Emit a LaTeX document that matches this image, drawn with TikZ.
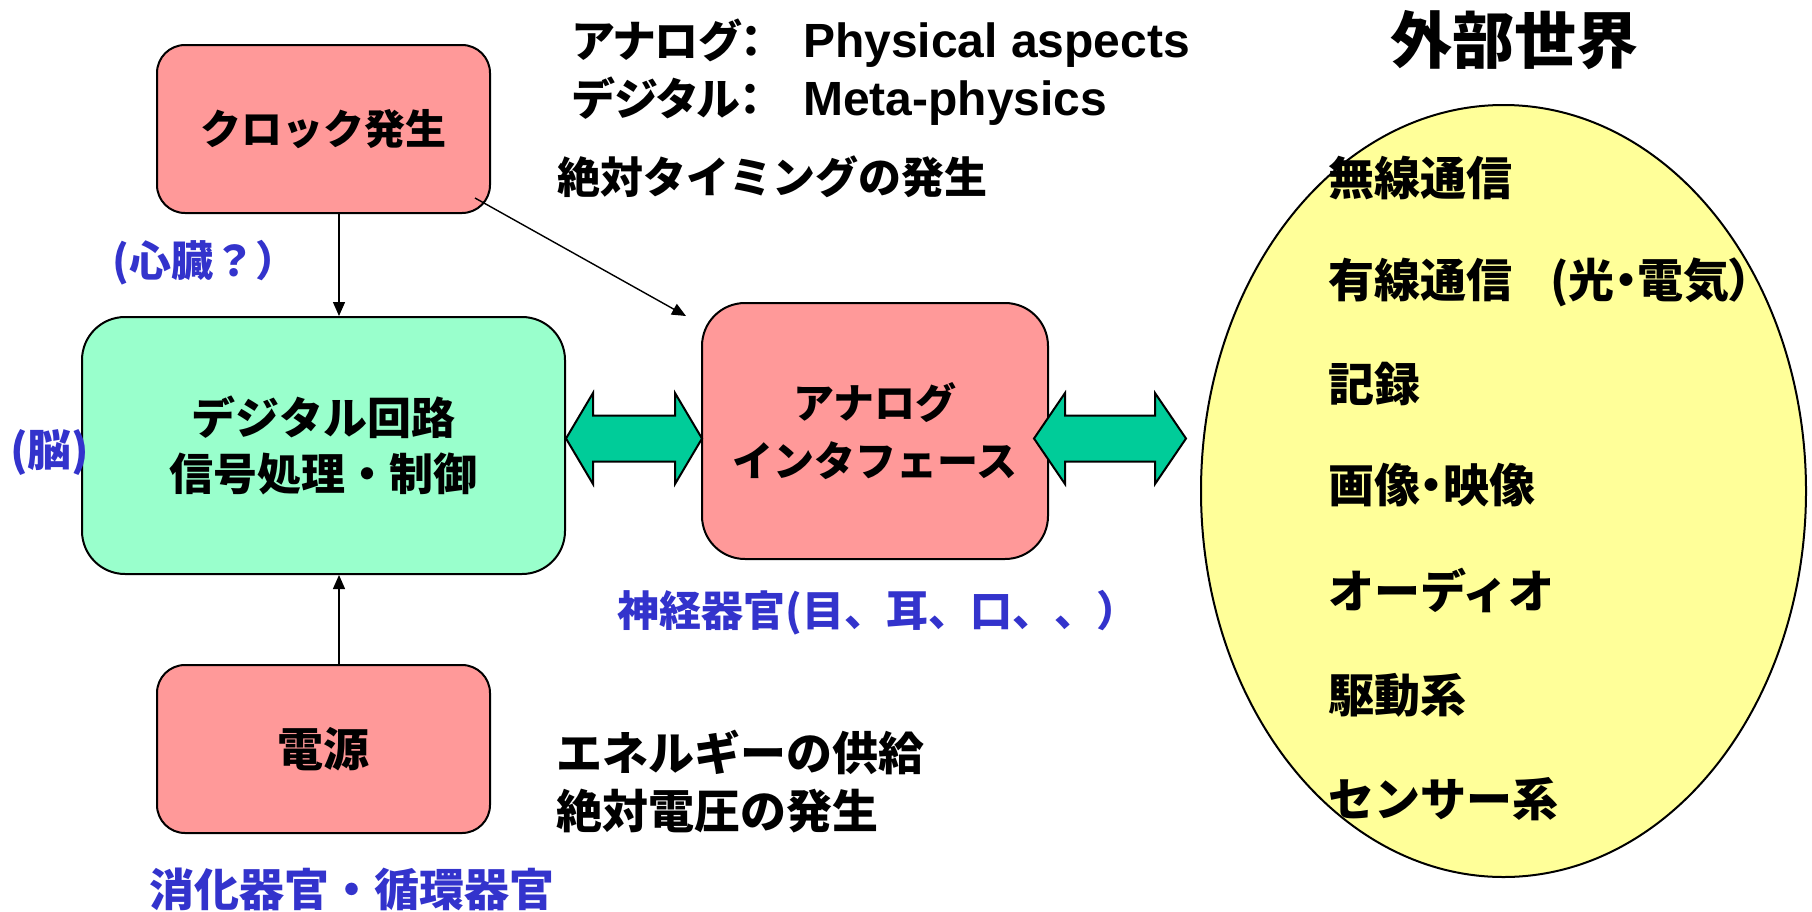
\documentclass[tikz,border=0pt]{standalone}
\usepackage{fontspec}
\setmainfont{Noto Sans CJK JP}
\newfontfamily\jpp{Noto Sans CJK JP}[RawFeature=+palt]
\newfontfamily\lat{Liberation Sans}
\usetikzlibrary{arrows.meta,calc,shapes.geometric}
\definecolor{pinkf}{HTML}{FF9999}
\definecolor{greenf}{HTML}{99FFCC}
\definecolor{yellowf}{HTML}{FFFF99}
\definecolor{tealf}{HTML}{00CC99}
\definecolor{bluet}{HTML}{3333CC}
\newcommand\fsz[2]{\fontsize{#1}{#2}\selectfont}
\tikzset{
  box/.style={draw=black, line width=2pt, align=center, font=\bfseries},
  arr/.style={draw=black, line width=1.4pt, -{Triangle[length=14pt,width=12pt]}},
  dbl/.style={fill=tealf, draw=black, line width=2pt, line join=miter},
  lbl/.style={inner sep=0pt, font=\bfseries},
  bluelbl/.style={inner sep=0pt, text=bluet, font=\bfseries},
}
\begin{document}
\begin{tikzpicture}[x=1pt,y=-1pt]
\useasboundingbox (0,0) rectangle (1812,911);
\fill[white] (0,0) rectangle (1812,911);

% boxes
\node[box, fill=pinkf, minimum width=333pt, minimum height=168pt, rounded corners=28pt, font=\bfseries\fsz{41}{50}] (clock) at (323.5,129) {クロック発生};
\node[box, fill=greenf, minimum width=483pt, minimum height=257pt, rounded corners=43pt, font=\bfseries\fsz{44}{56}] (digital) at (323.5,445.5) {デジタル回路\\信号処理・制御};
\node[box, fill=pinkf, minimum width=346pt, minimum height=256pt, rounded corners=43pt, font=\bfseries\fsz{41}{58}] (analog) at (875,431) {アナログ\\インタフェース};
\node[box, fill=pinkf, minimum width=333pt, minimum height=168pt, rounded corners=28pt, font=\bfseries\fsz{46}{50}] (power) at (323.5,749) {電源};

% outside world
\node[ellipse, draw=black, line width=2pt, fill=yellowf, minimum width=605pt, minimum height=772pt, inner sep=0pt] (world) at (1503.5,491) {};
\node[lbl, font=\bfseries\fsz{62}{62}] (worldtitle) at (1514,40) {外部世界};

% connectors
\coordinate (ax) at (339,0);
\draw[arr] (clock.south -| ax) -- (digital.north -| ax);
\draw[arr] (power.north -| ax) -- (digital.south -| ax);
\coordinate (dtip) at (686,316);
\draw[arr] ($(clock.south east)+(-16,-16)$) -- (dtip);

% double arrows
\filldraw[dbl] (566,438.5) -- (593,393) -- (593,415.5) -- (675,415.5) -- (675,393) -- (702,438.5) -- (675,484) -- (675,461.5) -- (593,461.5) -- (593,484) -- cycle;
\filldraw[dbl] (1034,438.5) -- (1065,393) -- (1065,415.5) -- (1155,415.5) -- (1155,393) -- (1186,438.5) -- (1155,484) -- (1155,461.5) -- (1065,461.5) -- (1065,484) -- cycle;

% top right descriptions
\node[lbl, anchor=base west, font=\bfseries\jpp\fsz{44}{44}] (ana) at (573,57) {アナログ：};
\node[lbl, anchor=base west, font=\bfseries\lat\fsz{48}{48}] (phys) at (803,57) {Physical aspects};
\node[lbl, anchor=base west, font=\bfseries\jpp\fsz{44}{44}] (dig) at (573,115) {デジタル：};
\node[lbl, anchor=base west, font=\bfseries\lat\fsz{48}{48}] (meta) at (803,115) {Meta-physics};
\node[lbl, anchor=west, font=\bfseries\fsz{43}{43}] (timing) at (557,177) {絶対タイミングの発生};
\node[lbl, anchor=west, font=\bfseries\fsz{46}{46}] (energy) at (556,752) {エネルギーの供給};
\node[lbl, anchor=west, font=\bfseries\fsz{46}{46}] (volt) at (556,811) {絶対電圧の発生};

% blue labels
\node[bluelbl, font=\bfseries\fsz{42}{42}] (heart) at (205,263) {(心臓？）};
\node[bluelbl, font=\bfseries\fsz{44}{44}] (brain) at (50,452) {(脳)};
\node[bluelbl, anchor=west, font=\bfseries\fsz{42}{42}] (nerve) at (617,613) {神経器官(目、耳、口、、）};
\node[bluelbl, anchor=west, font=\bfseries\fsz{45}{45}] (digest) at (149,889) {消化器官・循環器官};

% world items
\node[lbl, anchor=west, font=\bfseries\fsz{46}{46}] (w1) at (1328,178) {無線通信};
\node[lbl, anchor=west, font=\bfseries\fsz{46}{46}] (w2) at (1328,282) {有線通信\hspace{38pt}(光{\jpp ・}電気{\jpp ）}};
\node[lbl, anchor=west, font=\bfseries\fsz{46}{46}] (w3) at (1328,384) {記録};
\node[lbl, anchor=west, font=\bfseries\fsz{46}{46}] (w4) at (1328,485) {画像{\jpp ・}映像};
\node[lbl, anchor=west, font=\bfseries\fsz{46}{46}] (w5) at (1328,590) {オーディオ};
\node[lbl, anchor=west, font=\bfseries\fsz{46}{46}] (w6) at (1328,695) {駆動系};
\node[lbl, anchor=west, font=\bfseries\fsz{46}{46}] (w7) at (1328,799) {センサー系};
\end{tikzpicture}
\end{document}
